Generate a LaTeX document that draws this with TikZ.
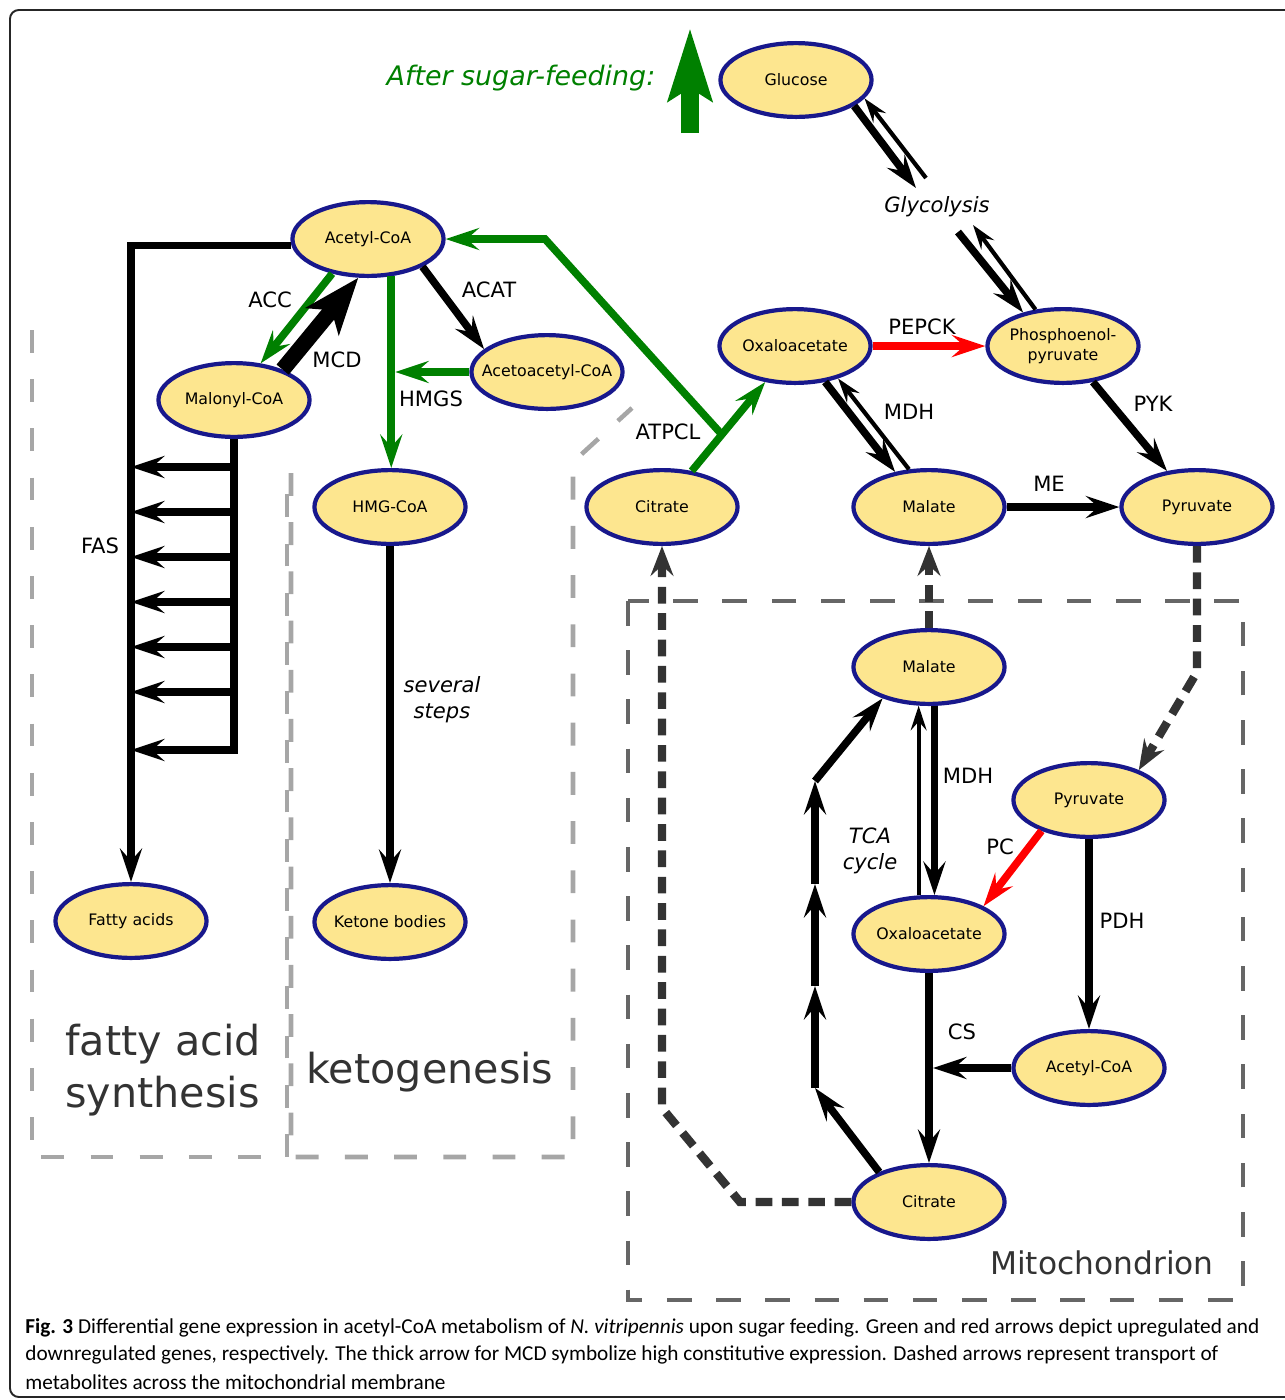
\documentclass[tikz,border=0pt]{standalone}
\usepackage{fontspec}
\setmainfont{DejaVu Sans}
\newfontfamily\capfont{Carlito}
\usetikzlibrary{shapes.geometric,arrows.meta,calc}

\definecolor{metfill}{RGB}{253,230,143}
\definecolor{metline}{RGB}{24,24,140}
\definecolor{upgreen}{RGB}{0,128,0}
\definecolor{downred}{RGB}{255,0,0}
\definecolor{transgray}{RGB}{51,51,51}
\definecolor{mitogray}{RGB}{102,102,102}
\definecolor{boxgray}{RGB}{166,166,166}
\definecolor{labgray}{RGB}{51,51,51}

\newcommand{\mtxt}[1]{\makebox[0pt]{#1}}

\begin{document}
\begin{tikzpicture}[x=0.02cm,y=-0.02cm,
	met/.style={ellipse,draw=metline,fill=metfill,line width=2.4pt,minimum width=86pt,minimum height=42pt,inner sep=0pt,font=\fontsize{9}{11.3}\selectfont},
	lab/.style={font=\fontsize{12}{14}\selectfont,inner sep=0pt},
	ital/.style={font=\fontsize{12}{14.7}\selectfont\itshape,inner sep=0pt,align=center},
	big/.style={font=\fontsize{23.5}{30}\selectfont,text=labgray,inner sep=0pt,align=left},
	flux/.style={line width=4.3pt,-{Stealth[length=19pt,width=12.5pt,inset=7pt]}},
	rev/.style={line width=2.4pt,-{Stealth[length=14pt,width=9pt,inset=5pt]}},
	upflux/.style={flux,draw=upgreen},
	downflux/.style={flux,draw=downred},
	transp/.style={line width=4.8pt,draw=transgray,dash pattern=on 9.5pt off 5.5pt,-{Stealth[length=17pt,width=13pt,inset=6pt]}},
	compbox/.style={line width=2.6pt,draw=boxgray,dash pattern=on 13pt off 15pt},
	mitobox/.style={line width=2.3pt,draw=mitogray,dash pattern=on 14pt off 14pt},
	capline/.style={font=\capfont\fontsize{12.1}{14}\selectfont,inner sep=0pt,anchor=west}]
	
	\useasboundingbox (0,0) rectangle (1285,1400);
	\clip (0,0) rectangle (1285,1400);
	\draw[line width=1.1pt,draw=black!85,rounded corners=5pt] (10,10) rectangle (1330,1397);
	
	% compartments
	\draw[compbox] (32,330) -- (32,1157) -- (287,1157) -- (287,473);
	\draw[compbox] (291,473) -- (291,1157) -- (573,1157) -- (573,462) -- (632,408);
	\draw[mitobox] (628,601) rectangle (1243,1300);
	\node[big] (fasyn) at (163,1070) {fatty acid\\synthesis};
	\node[big] (keto) at (430,1072) {ketogenesis};
	\node[font=\fontsize{17.8}{20}\selectfont,text=labgray,inner sep=0pt] (mito) at (1102,1263) {Mitochondrion};
	
	\node[font=\fontsize{15.3}{18}\selectfont\itshape,text=upgreen,inner sep=0pt] (sugar) at (521,78) {After sugar-feeding:};
	\coordinate (ua) at (690,133);
	\coordinate (ub) at (690,28);
	\draw[upgreen,line width=10pt,-{Stealth[length=41pt,width=24.4pt,inset=7pt]}] (ua) -- (ub);
	
	\node[met] (glc) at (796,80) {\mtxt{Glucose}};
	\node[met] (acoa) at (368,239) {\mtxt{Acetyl-CoA}};
	\node[met] (mal) at (234,400) {\mtxt{Malonyl-CoA}};
	\node[met] (aca) at (547,372) {\mtxt{Acetoacetyl-CoA}};
	\node[met] (hmg) at (390,507) {\mtxt{HMG-CoA}};
	\node[met] (fa) at (131,921) {\mtxt{Fatty acids}};
	\node[met] (kb) at (390,922) {\mtxt{Ketone bodies}};
	\node[met] (oaa) at (795,346) {\mtxt{Oxaloacetate}};
	\node[met,align=center] (pep) at (1063,346) {Phosphoenol-\\pyruvate};
	\node[met] (cit) at (662,507) {\mtxt{Citrate}};
	\node[met] (mlt) at (929,507) {\mtxt{Malate}};
	\node[met] (pyr) at (1197,507) {\mtxt{Pyruvate}};
	\node[met] (mltm) at (929,667) {\mtxt{Malate}};
	\node[met] (pyrm) at (1089,800) {\mtxt{Pyruvate}};
	\node[met] (oaam) at (929,934) {\mtxt{Oxaloacetate}};
	\node[met] (acm) at (1089,1068) {\mtxt{Acetyl-CoA}};
	\node[met] (citm) at (929,1202) {\mtxt{Citrate}};
	
	% glycolysis
	\node[ital] (gly) at (937,207) {Glycolysis};
	\coordinate (g1) at (916,188);
	\coordinate (g2) at (926,178);
	\coordinate (g3) at (958,232);
	\coordinate (g4) at (973,225);
	\draw[flux] (glc.-24) -- (g1);
	\draw[rev] (g2) -- (glc.-15);
	\draw[flux] (g3) -- (pep.140);
	\draw[rev] (pep.127) -- (g4);
	
	\draw[downflux] (oaa) -- (pep);
	\node[lab] (pepck) at (922,327) {PEPCK};
	\draw[flux] (pep) -- (pyr);
	\node[lab] (pyk) at (1153,404) {PYK};
	\draw[flux] (oaa.-50) -- (mlt.134);
	\draw[rev] (mlt.118) -- (oaa.-37);
	\node[lab] (mdhc) at (909,412) {MDH};
	\draw[flux] (mlt) -- (pyr);
	\node[lab] (me) at (1049,484) {ME};
	
	% ATPCL
	\draw[upflux] (cit) -- (oaa);
	\coordinate (jn) at ($(cit)!0.45!(oaa)$);
	\coordinate (atp) at (545,239);
	\draw[upflux] (jn) -- (atp) -- (acoa.east);
	\node[lab] (atpcl) at (668,432) {ATPCL};
	
	% acetyl-CoA branches
	\draw[upflux] (acoa.-136) -- (mal.54);
	\node[lab] (acc) at (270,300) {ACC};
	\draw[line width=9pt,-{Stealth[length=32pt,width=24pt,inset=8pt]}] (mal.32) -- (acoa.-104);
	\node[lab] (mcd) at (337,360) {MCD};
	\draw[flux] (acoa.-27) -- (aca.160);
	\node[lab] (acat) at (489,290) {ACAT};
	\draw[upflux] (acoa.-58) -- (acoa.-58 |- hmg.north);
	\draw[upflux] (aca.west) -- ($(acoa.-58 |- aca.west)+(4,0)$);
	\node[lab] (hmgs) at (431,399) {HMGS};
	\draw[flux] (hmg) -- (kb);
	\node[ital] (sev) at (442,700) {several\\steps};
	
	% FAS
	\draw[flux] (acoa.185) -| (fa.north);
	\node[lab] (fas) at (100,546) {FAS};
	\draw[line width=4.3pt] (mal.south) -- (mal.south |- 0,754);
	\foreach \y in {467,512,557,602,647,692,750}
		\draw[flux] (mal.south |- 0,\y) -- (fa.north |- 0,\y);
	
	% transport
	\coordinate (pk) at (1197,672);
	\draw[transp] (pyr.south) -- (pk) -- (pyrm.31);
	\draw[transp] (mltm) -- (mlt);
	\coordinate (c1) at (740,1202);
	\coordinate (c2) at (662,1108);
	\draw[transp] (citm.west) -- (c1) -- (c2) -- (cit.south);
	
	% mitochondrion
	\draw[flux] (mltm.-82) -- (oaam.82);
	\draw[rev] (oaam.105) -- (mltm.-105);
	\node[lab] (mdhm) at (968,776) {MDH};
	\draw[downflux] (pyrm.-147) -- (oaam.27);
	\node[lab] (pc) at (1000,847) {PC};
	\draw[flux] (pyrm) -- (acm);
	\node[lab] (pdh) at (1122,921) {PDH};
	\draw[flux] (oaam) -- (citm);
	\draw[flux] (acm.west) -- ($(oaam |- acm.west)+(4,0)$);
	\node[lab] (cs) at (962,1032) {CS};
	\coordinate (t1) at (815,1088);
	\coordinate (t2) at (815,986);
	\coordinate (t3) at (815,884);
	\coordinate (t4) at (815,781);
	\draw[flux] (citm.149) -- (t1);
	\draw[flux] (t1) -- (t2);
	\draw[flux] (t2) -- (t3);
	\draw[flux] (t3) -- (t4);
	\draw[flux] (t4) -- (mltm.-146);
	\node[ital] (tca) at (870,851) {TCA\\cycle};
	
	% caption
	\node[capline] (capa) at (25,1328) {\textbf{Fig. 3} Differential gene expression in acetyl-CoA metabolism of \textit{N. vitripennis} upon sugar feeding. Green and red arrows depict upregulated and};
	\node[capline] (capb) at (25,1355) {downregulated genes, respectively. The thick arrow for MCD symbolize high constitutive expression. Dashed arrows represent transport of};
	\node[capline] (capc) at (25,1382) {metabolites across the mitochondrial membrane};
\end{tikzpicture}
\end{document}
